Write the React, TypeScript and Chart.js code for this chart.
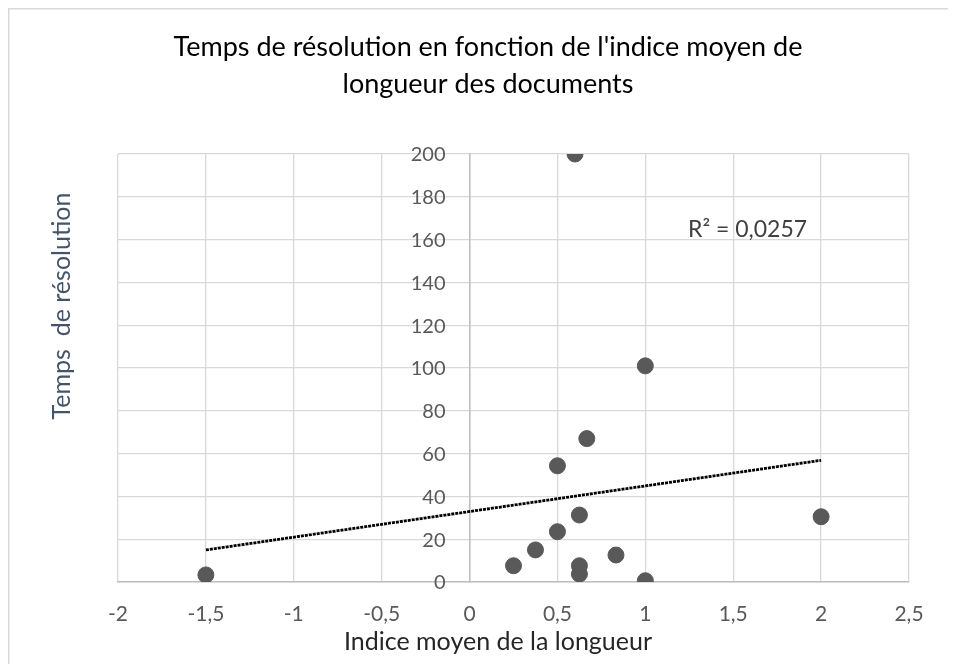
import React, { useEffect, useRef } from "react";
import { Chart, registerables } from "chart.js";

Chart.register(...registerables);

// ---- Data ----
const titleLines = ["Temps de résolution en fonction de l'indice moyen de", "longueur des documents"];
const xAxisTitle = "Indice moyen de la longueur";
const yAxisTitle = "Temps  de résolution";
const r2Label = "R² = 0,0257";

const xValues = [0.6, 1, 0.667, 0.5, 0.625, 0.5, 0.375, 0.25, 0.625, 0.625, 0.833, 1, 2, -1.5];
const yValues = [200, 101, 67, 54.3, 31.3, 23.5, 15, 7.6, 7.6, 3.7, 12.6, 0.6, 30.5, 3.3];

const xMin = -2;
const xMax = 2.5;
const xStep = 0.5;
const yMin = 0;
const yMax = 200;
const yStep = 20;

const FONT = "Lato, 'Noto Sans', sans-serif";

function regression(xs: number[], ys: number[]) {
  const n = xs.length;
  const mx = xs.reduce((a, b) => a + b, 0) / n;
  const my = ys.reduce((a, b) => a + b, 0) / n;
  let sxy = 0;
  let sxx = 0;
  for (let i = 0; i < n; i++) {
    sxy += (xs[i] - mx) * (ys[i] - my);
    sxx += (xs[i] - mx) * (xs[i] - mx);
  }
  const slope = sxy / sxx;
  return { slope, intercept: my - slope * mx };
}

const fmt = (v: number | string) => String(v).replace(".", ",");

export default function App() {
  const ref = useRef<HTMLCanvasElement | null>(null);

  useEffect(() => {
    if (!ref.current) return;
    const points = xValues.map((x, i) => ({ x, y: yValues[i] }));
    const { slope, intercept } = regression(xValues, yValues);
    const tx0 = Math.min(...xValues);
    const tx1 = Math.max(...xValues);
    const trend = [
      { x: tx0, y: intercept + slope * tx0 },
      { x: tx1, y: intercept + slope * tx1 },
    ];

    const textPlugin = {
      id: "texts",
      beforeDatasetsDraw(chart: any) {
        // y tick labels drawn next to the crossing axis (x = 0)
        const ctx = chart.ctx;
        const xs = chart.scales.x;
        const ys = chart.scales.y;
        ctx.save();
        ctx.fillStyle = "#595959";
        ctx.font = `20px ${FONT}`;
        ctx.textAlign = "right";
        ctx.textBaseline = "middle";
        const ax = xs.getPixelForValue(0);
        for (const t of ys.ticks) {
          ctx.fillText(fmt(t.value), ax - 24, ys.getPixelForValue(t.value) + 1);
        }
        ctx.restore();
      },
      afterDraw(chart: any) {
        const ctx = chart.ctx;
        ctx.save();
        // border (top & left visible)
        ctx.strokeStyle = "#d9d9d9";
        ctx.lineWidth = 1.5;
        ctx.beginPath();
        ctx.moveTo(0.75, chart.height + 2);
        ctx.lineTo(0.75, 0.75);
        ctx.lineTo(chart.width + 2, 0.75);
        ctx.stroke();

        ctx.textAlign = "center";
        ctx.textBaseline = "middle";
        ctx.fillStyle = "#000000";
        ctx.font = `27px ${FONT}`;
        ctx.fillText(titleLines[0], 480, 39);
        ctx.fillText(titleLines[1], 480, 76);

        ctx.fillStyle = "#262626";
        ctx.font = `25px ${FONT}`;
        ctx.fillText(xAxisTitle, 490, 634);

        ctx.fillStyle = "#404040";
        ctx.textAlign = "left";
        ctx.font = `23px ${FONT}`;
        ctx.fillText(r2Label, 680, 222);

        ctx.fillStyle = "#44546a";
        ctx.textAlign = "center";
        ctx.font = `25px ${FONT}`;
        ctx.translate(54, 298);
        ctx.rotate(-Math.PI / 2);
        ctx.fillText(yAxisTitle, 0, 0);
        ctx.restore();
      },
    };

    const chart = new Chart(ref.current, {
      type: "scatter",
      data: {
        datasets: [
          {
            label: "data",
            data: points,
            backgroundColor: "#595959",
            borderColor: "#595959",
            pointRadius: 8,
            pointHoverRadius: 8,
            order: 2,
          },
          {
            type: "line",
            label: "trend",
            data: trend,
            borderColor: "#000000",
            borderWidth: 2.8,
            borderDash: [3, 1],
            pointRadius: 0,
            fill: false,
            order: 1,
          } as any,
        ],
      },
      options: {
        responsive: false,
        animation: false,
        layout: { padding: { left: 110, right: 39, top: 146, bottom: 0 } },
        plugins: {
          legend: { display: false },
          tooltip: { enabled: false },
          title: { display: false },
        },
        scales: {
          x: {
            type: "linear",
            position: "bottom",
            min: xMin,
            max: xMax,
            afterFit: (s: any) => {
              s.height = 82;
            },
            ticks: {
              stepSize: xStep,
              padding: 20,
              color: "#595959",
              font: { family: FONT, size: 21 },
              callback: (v: any) => fmt(v),
            },
            grid: { color: "#d9d9d9", lineWidth: 1.3, drawTicks: false },
            border: { color: "#bfbfbf", width: 1.5 },
          },
          y: {
            type: "linear",
            position: { x: 0 } as any,
            min: yMin,
            max: yMax,
            ticks: {
              stepSize: yStep,
              display: false,
            },
            grid: { color: "#d9d9d9", lineWidth: 1.3, drawTicks: false },
            border: { color: "#bfbfbf", width: 1.5 },
          },
        },
      },
      plugins: [textPlugin],
    });
    return () => chart.destroy();
  }, []);

  return (
    <div style={{ width: 940, height: 656 }}>
      <canvas ref={ref} width={940} height={656} style={{ display: "block" }} />
    </div>
  );
}
